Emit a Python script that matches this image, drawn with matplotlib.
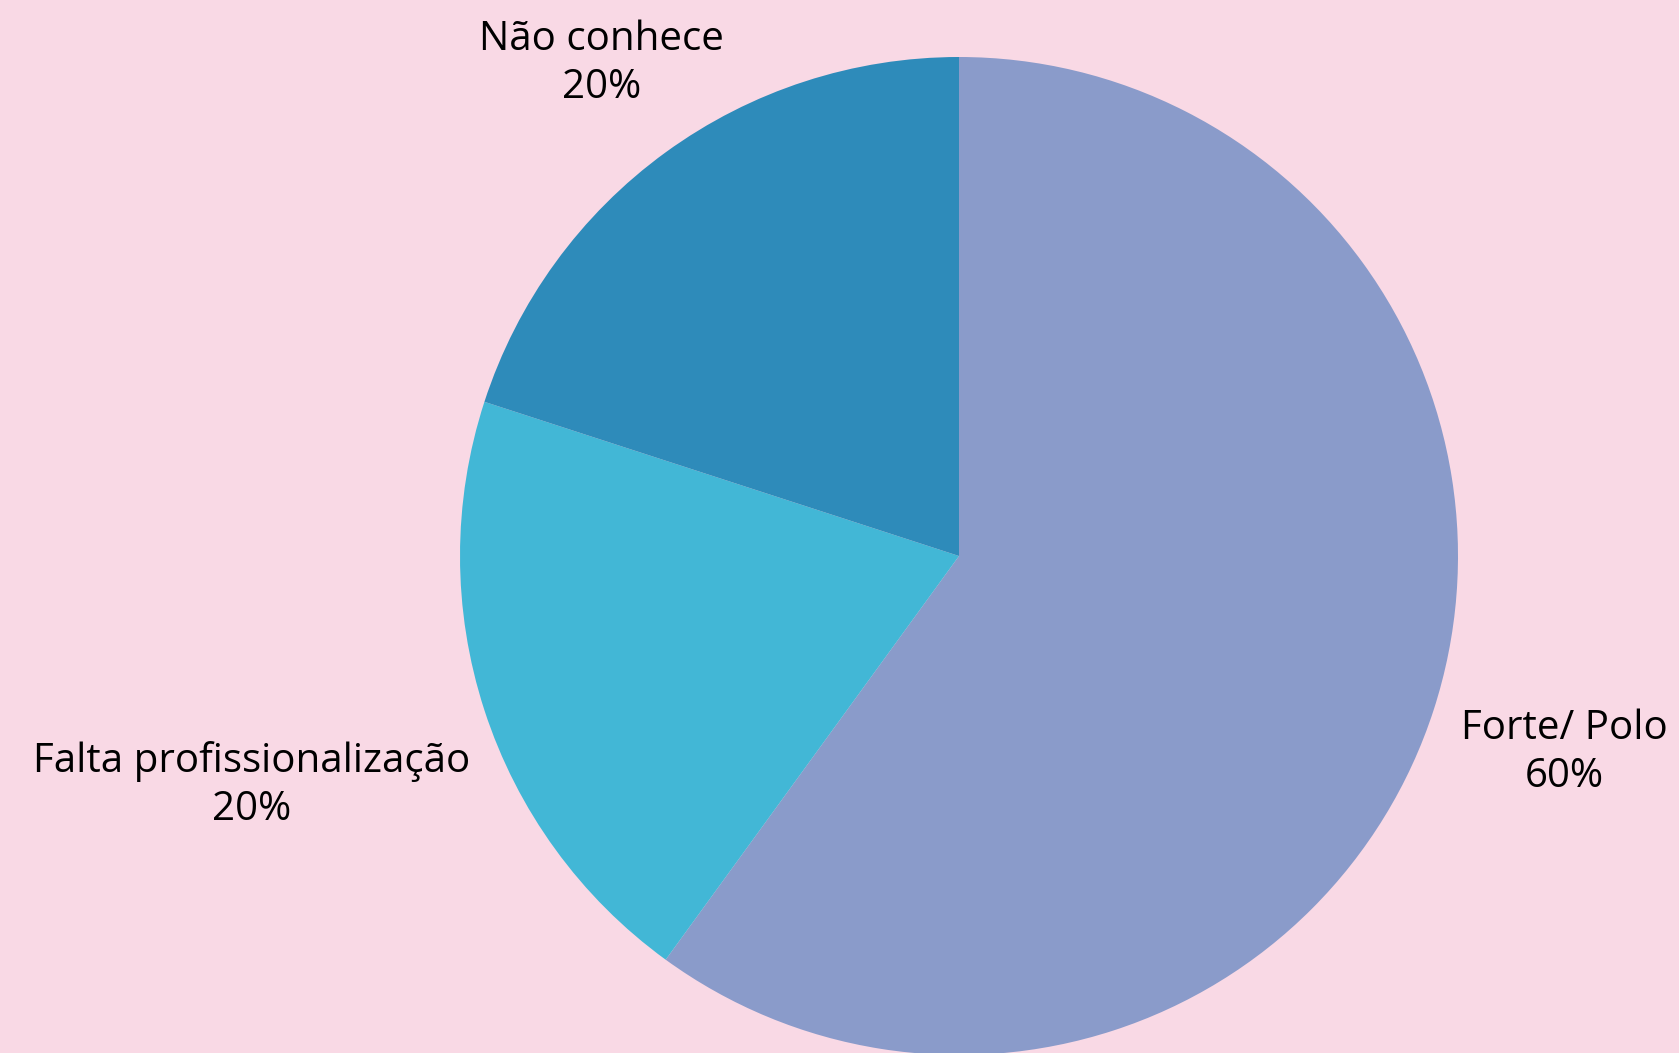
import matplotlib
matplotlib.use("Agg")
from matplotlib import pyplot as plt
import numpy as np

labels = ["Forte/ Polo", "Falta profissionalização", "Não conhece"]
values = [60, 20, 20]
colors = ["#8A9BCA", "#42B7D6", "#2E8BBA"]
label_dist = [1.275, 1.49, 1.22]

W, H = 1679, 1053
fig = plt.figure(figsize=(W / 100, H / 100), dpi=100)
fig.patch.set_facecolor("#F9D9E5")
ax = fig.add_axes([0, 0, 1, 1])

cx, cy, r = 959, H - 556, 499
wedges, _ = ax.pie(values, colors=colors, startangle=90, counterclock=False,
                   radius=r, center=(cx, cy),
                   wedgeprops={"linewidth": 0})
ax.set_xlim(0, W)
ax.set_ylim(0, H)
ax.set_aspect("equal")
ax.axis("off")

total = sum(values)
for w, lab, v, d in zip(wedges, labels, values, label_dist):
    ang = np.deg2rad((w.theta1 + w.theta2) / 2)
    x = cx + d * r * np.cos(ang)
    y = cy + d * r * np.sin(ang)
    ax.text(x, y, f"{lab}\n{v / total:.0%}", ha="center", va="center",
            fontsize=29, family="Open Sans", fontweight="medium",
            color="black", linespacing=1.25)

fig.savefig("out.png", dpi=100, facecolor=fig.get_facecolor())
